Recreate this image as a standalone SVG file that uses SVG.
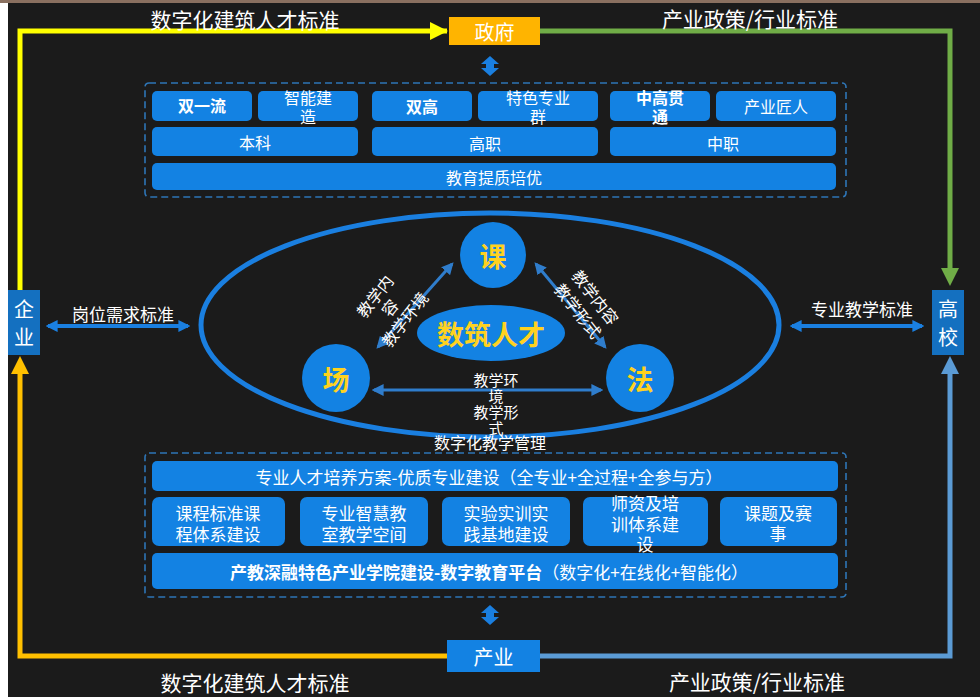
<svg xmlns="http://www.w3.org/2000/svg" width="980" height="697" viewBox="0 0 980 697">
<defs>
<style>
text{font-family:"Noto Sans CJK SC","Liberation Sans",sans-serif;fill:#fff;text-anchor:middle;dominant-baseline:central}
.box{fill:#1382E3}
.b{font-weight:bold}
.t17{font-size:17px}
.t16{font-size:16px}
.t15{font-size:15px}
.lbl{font-size:20px}
.dash{fill:none;stroke:#2E75B6;stroke-width:1.6;stroke-dasharray:7 4}
.yel{font-size:27px;font-weight:bold;fill:#FFD21F}
.conn{stroke:#2F7DCC;stroke-width:3;fill:none}
</style>
<marker id="ah" viewBox="0 0 10 10" refX="8" refY="5" markerWidth="4" markerHeight="4" orient="auto-start-reverse" markerUnits="strokeWidth">
<path d="M0,0 L10,5 L0,10 z" fill="#2F7DCC"/>
</marker>
<marker id="ah2" viewBox="0 0 10 10" refX="8" refY="5" markerWidth="3" markerHeight="3" orient="auto-start-reverse" markerUnits="strokeWidth">
<path d="M0,0 L10,5 L0,10 z" fill="#1A7FE0"/>
</marker>
</defs>
<rect x="0" y="0" width="980" height="697" fill="#ffffff"/>
<rect x="8" y="3" width="972" height="694" fill="#1b1b1b"/>
<rect x="0" y="0" width="980" height="3" fill="#8a7060"/>

<g id="connectors">
<path d="M447,31 H20 V290" stroke="#FFFF00" stroke-width="5" fill="none"/>
<polygon points="430,22 448,31 430,40" fill="#FFFF00"/>
<path d="M540,31 H950 V270" stroke="#70AD47" stroke-width="5" fill="none"/>
<polygon points="941,268 959,268 950,286" fill="#70AD47"/>
<path d="M447,656 H20 V372" stroke="#FFC000" stroke-width="5" fill="none"/>
<polygon points="11,374 29,374 20,356" fill="#FFC000"/>
<path d="M540,656 H950 V372" stroke="#5B9BD5" stroke-width="5" fill="none"/>
<polygon points="941,374 959,374 950,356" fill="#5B9BD5"/>
<path d="M490,56 L499,64 L494,64 L494,68 L499,68 L490,76 L481,68 L486,68 L486,64 L481,64 Z" fill="#1A7FE0"/>
<path d="M490,605 L499,613 L494,613 L494,617 L499,617 L490,625 L481,617 L486,617 L486,613 L481,613 Z" fill="#1A7FE0"/>
<line x1="48" y1="326" x2="188" y2="326" stroke="#1A7FE0" stroke-width="4" marker-start="url(#ah2)" marker-end="url(#ah2)"/>
<line x1="792" y1="326" x2="922" y2="326" stroke="#1A7FE0" stroke-width="4" marker-start="url(#ah2)" marker-end="url(#ah2)"/>
<line x1="452" y1="264" x2="378" y2="347" class="conn" marker-start="url(#ah)" marker-end="url(#ah)"/>
<line x1="536" y1="264" x2="605" y2="347" class="conn" marker-start="url(#ah)" marker-end="url(#ah)"/>
<line x1="374" y1="390" x2="601" y2="390" class="conn" marker-start="url(#ah)" marker-end="url(#ah)"/>
</g>

<text x="245" y="19" class="lbl" style="font-size:21px">数字化建筑人才标准</text>
<text x="750" y="18" class="lbl" style="font-size:21px">产业政策/行业标准</text>
<text x="255" y="682" class="lbl" style="font-size:21px">数字化建筑人才标准</text>
<text x="757" y="681" class="lbl" style="font-size:21px">产业政策/行业标准</text>
<text x="123" y="313" class="t17">岗位需求标准</text>
<text x="862" y="308" class="t17">专业教学标准</text>

<g id="zhengfu"><rect x="449" y="17" width="91" height="28" fill="#FFB400"/><text x="494.5" y="31" class="lbl">政府</text></g>
<g id="chanye"><rect x="447" y="640" width="93" height="32" fill="#1382E3"/><text x="493.5" y="656" class="lbl">产业</text></g>
<g id="qiye"><rect x="8" y="290" width="32" height="65" fill="#1470C0"/><text x="24" y="308" class="lbl">企</text><text x="24" y="336" class="lbl">业</text></g>
<g id="gaoxiao"><rect x="932" y="290" width="32" height="65" fill="#1470C0"/><text x="948" y="308" class="lbl">高</text><text x="948" y="336" class="lbl">校</text></g>

<g id="top-panel">
<rect x="145" y="83" width="701" height="114" rx="4" class="dash"/>
<rect x="152" y="91" width="100" height="30" rx="5" class="box"/><text x="202" y="105" class="t16 b">双一流</text>
<rect x="258" y="91" width="100" height="30" rx="5" class="box"/><text x="308" y="97" class="t16">智能建</text><text x="308" y="116" class="t16">造</text>
<rect x="372" y="91" width="100" height="30" rx="5" class="box"/><text x="422" y="106" class="t16 b">双高</text>
<rect x="478" y="91" width="120" height="30" rx="5" class="box"/><text x="538" y="97" class="t16">特色专业</text><text x="538" y="116" class="t16">群</text>
<rect x="610" y="91" width="100" height="30" rx="5" class="box"/><text x="660" y="97" class="t16 b">中高贯</text><text x="660" y="116" class="t16 b">通</text>
<rect x="716" y="91" width="120" height="30" rx="5" class="box"/><text x="776" y="106" class="t16">产业匠人</text>
<rect x="152" y="127" width="206" height="29" rx="5" class="box"/><text x="255" y="142" class="t16">本科</text>
<rect x="372" y="127" width="226" height="29" rx="5" class="box"/><text x="485" y="143" class="t16">高职</text>
<rect x="610" y="127" width="226" height="29" rx="5" class="box"/><text x="723" y="143" class="t16">中职</text>
<rect x="152" y="163" width="684" height="27" rx="5" class="box"/><text x="494" y="177" class="t16">教育提质培优</text>
</g>

<g id="core">
<ellipse cx="490" cy="325" rx="289" ry="112" fill="none" stroke="#1A7FE0" stroke-width="5"/>
<ellipse cx="491" cy="333" rx="74" ry="28" fill="#1382E3"/><text x="491" y="333" class="yel">数筑人才</text>
</g>
<g id="ke"><circle cx="493" cy="255" r="33" fill="#1382E3"/><text x="493" y="255" class="yel">课</text></g>
<g id="chang"><circle cx="336" cy="378" r="34" fill="#1382E3"/><text x="336" y="378" class="yel">场</text></g>
<g id="fa"><circle cx="640" cy="378" r="34" fill="#1382E3"/><text x="640" y="378" class="yel">法</text></g>

<g transform="translate(390,308) rotate(-52)">
<text x="0" y="-20" class="t16">教学内</text>
<text x="0" y="-1" class="t16">容</text>
<text x="0" y="18" class="t16">教学环境</text>
</g>
<g transform="translate(588,303) rotate(52)">
<text x="0" y="-10" class="t16">教学内容</text>
<text x="0" y="12" class="t16">教学形式</text>
</g>
<text x="496" y="379" class="t15">教学环</text>
<text x="496" y="395" class="t15">境</text>
<text x="496" y="411" class="t15">教学形</text>
<text x="496" y="427" class="t15">式</text>
<text x="490" y="442" class="t16">数字化教学管理</text>

<g id="bottom-panel">
<rect x="145" y="453" width="701" height="144" rx="4" class="dash"/>
<rect x="152" y="461" width="686" height="30" rx="5" class="box"/><text x="489" y="476" class="t17">专业人才培养方案-优质专业建设（全专业+全过程+全参与方）</text>
<rect x="152" y="497" width="133" height="49" rx="7" class="box"/><text x="218" y="512" class="t17">课程标准课</text><text x="218" y="533" class="t17">程体系建设</text>
<rect x="300" y="497" width="128" height="49" rx="7" class="box"/><text x="364" y="512" class="t17">专业智慧教</text><text x="364" y="533" class="t17">室教学空间</text>
<rect x="442" y="497" width="128" height="49" rx="7" class="box"/><text x="506" y="512" class="t17">实验实训实</text><text x="506" y="533" class="t17">践基地建设</text>
<rect x="583" y="497" width="125" height="49" rx="7" class="box"/><text x="645" y="502" class="t17">师资及培</text><text x="645" y="523" class="t17">训体系建</text><text x="645" y="543" class="t17">设</text>
<rect x="720" y="497" width="117" height="49" rx="7" class="box"/><text x="778" y="512" class="t17">课题及赛</text><text x="778" y="532" class="t17">事</text>
<rect x="152" y="553" width="686" height="36" rx="5" class="box"/><text x="489" y="571" class="t17"><tspan class="b">产教深融特色产业学院建设-数字教育平台</tspan>（数字化+在线化+智能化）</text>
</g>
</svg>
